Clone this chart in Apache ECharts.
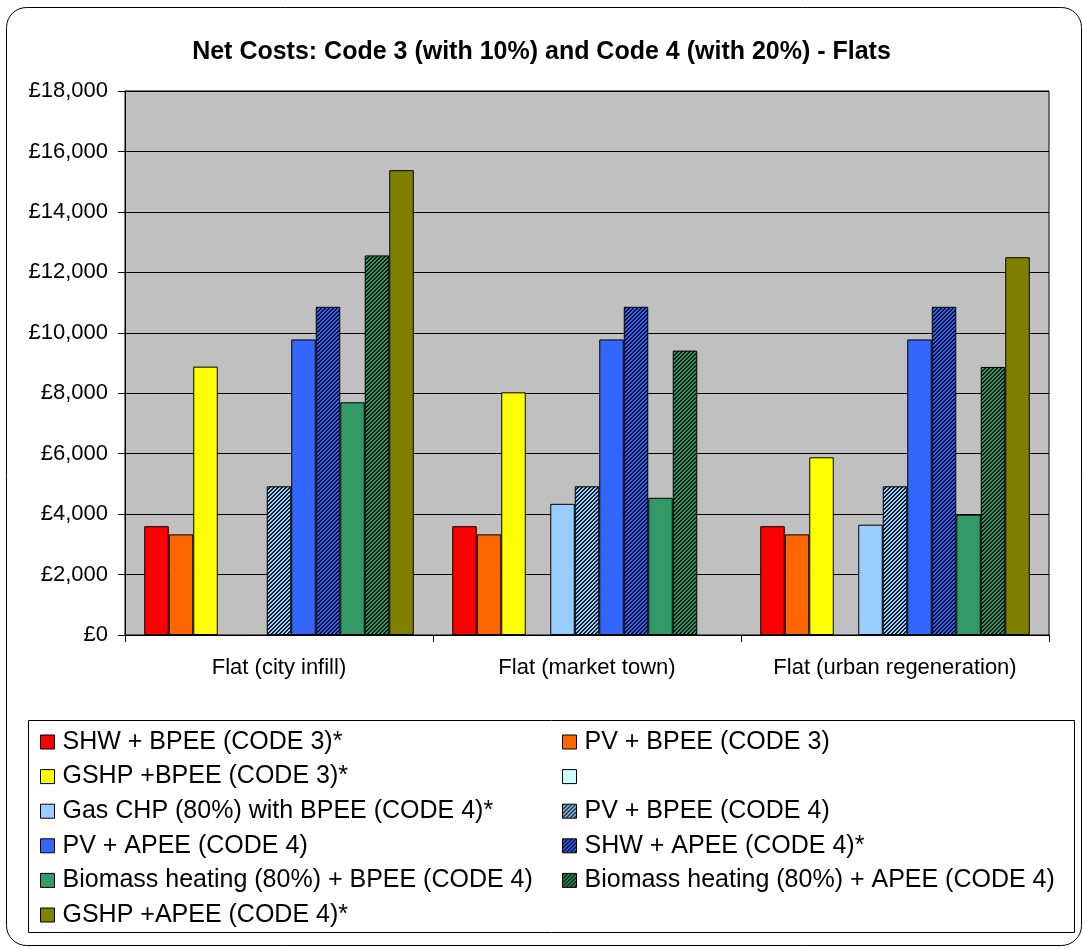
<!DOCTYPE html>
<html>
<head>
<meta charset="utf-8">
<script src="https://cdn.jsdelivr.net/npm/echarts@6/dist/echarts.min.js"></script>
<style>
html,body{margin:0;padding:0;background:#fff;}
#chart{width:1083px;height:949px;}
</style>
</head>
<body>
<div id="chart"></div>
<script>
const categories = ['Flat (city infill)', 'Flat (market town)', 'Flat (urban regeneration)'];
const yTicks = [0, 2000, 4000, 6000, 8000, 10000, 12000, 14000, 16000, 18000];

const seriesNames = [
  'SHW + BPEE (CODE 3)*',
  'PV + BPEE (CODE 3)',
  'GSHP +BPEE (CODE 3)*',
  ' ',
  'Gas CHP (80%) with BPEE (CODE 4)*',
  'PV + BPEE (CODE 4)',
  'PV + APEE (CODE 4)',
  'SHW + APEE (CODE 4)*',
  'Biomass heating (80%) + BPEE (CODE 4)',
  'Biomass heating (80%) + APEE (CODE 4)',
  'GSHP +APEE (CODE 4)*'
];

const shwBpee3 = [3600, 3600, 3600];
const pvBpee3 = [3330, 3330, 3330];
const gshpBpee3 = [8880, 8030, 5880];
const blankSeries = [null, null, null];
const gasChp4 = [null, 4340, 3650];
const pvBpee4 = [4920, 4920, 4920];
const pvApee4 = [9780, 9780, 9780];
const shwApee4 = [10860, 10860, 10860];
const bioBpee4 = [7700, 4540, 3980];
const bioApee4 = [12560, 9410, 8870];
const gshpApee4 = [15380, null, 12500];

const seriesData = [shwBpee3, pvBpee3, gshpBpee3, blankSeries, gasChp4, pvBpee4, pvApee4, shwApee4, bioBpee4, bioApee4, gshpApee4];
const baseColors = ['#FF0000', '#FF6600', '#FFFF00', '#CCFFFF', '#99CCFF', '#99CCFF', '#3366FF', '#3366FF', '#339966', '#339966', '#808000'];
const hatched = [false, false, false, false, false, true, false, true, false, true, false];

function hatchPattern(base) {
  const c = document.createElement('canvas');
  c.width = 8; c.height = 8;
  const ctx = c.getContext('2d');
  ctx.fillStyle = base;
  ctx.fillRect(0, 0, 8, 8);
  ctx.fillStyle = 'rgba(0,0,0,0.85)';
  for (let x = 0; x < 8; x++) {
    for (let y = 0; y < 8; y++) {
      const m = (x + y) % 4;
      if (m === 0 || m === 1) ctx.fillRect(x, y, 1, 1);
    }
  }
  return { image: c, repeat: 'repeat' };
}

const FONT = 'Liberation Sans, Arial, sans-serif';

const series = seriesNames.map((name, i) => ({
  name: name,
  type: 'bar',
  data: seriesData[i],
  barGap: '0%',
  barCategoryGap: '12.5%',
  itemStyle: {
    color: hatched[i] ? hatchPattern(baseColors[i]) : baseColors[i],
    borderColor: '#000',
    borderWidth: 1
  },
  emphasis: { disabled: true },
  animation: false
}));

const leftNames = seriesNames.filter((_, i) => i % 2 === 0);
const rightNames = seriesNames.filter((_, i) => i % 2 === 1);

const legendCommon = {
  orient: 'vertical',
  top: 724.5,
  itemWidth: 14,
  itemHeight: 14,
  itemGap: 9.6,
  icon: 'rect',
  selectedMode: false,
  textStyle: { fontFamily: FONT, fontSize: 25, color: '#000', padding: [0, 0, 0, 3] },
  itemStyle: { borderColor: '#000', borderWidth: 1 }
};

const chart = echarts.init(document.getElementById('chart'), null, { renderer: 'canvas' });
chart.setOption({
  backgroundColor: '#fff',
  animation: false,
  title: {
    text: 'Net Costs: Code 3 (with 10%) and Code 4 (with 20%) - Flats',
    left: 'center',
    top: 35,
    textStyle: { fontFamily: FONT, fontSize: 25, fontWeight: 'bold', color: '#000' }
  },
  graphic: [
    { type: 'rect', shape: { x: 6.5, y: 7.5, width: 1075, height: 938, r: 20 }, style: { fill: 'none', stroke: '#000', lineWidth: 1 }, silent: true, z: -1 },
    { type: 'rect', shape: { x: 28.5, y: 720.5, width: 1046, height: 212 }, style: { fill: 'none', stroke: '#000', lineWidth: 1 }, silent: true, z: -1 }
  ],
  legend: [
    Object.assign({}, legendCommon, { left: 35, data: leftNames }),
    Object.assign({}, legendCommon, { left: 557, data: rightNames })
  ],
  grid: {
    left: 125, right: 34, top: 91, bottom: 314,
    show: true, backgroundColor: '#C0C0C0', borderColor: '#000', borderWidth: 1,
    containLabel: false
  },
  xAxis: {
    type: 'category',
    data: categories,
    boundaryGap: true,
    axisLine: { show: true, lineStyle: { color: '#000', width: 1 } },
    axisTick: { show: true, length: 7, alignWithLabel: false, interval: 0, lineStyle: { color: '#000' } },
    axisLabel: { fontFamily: FONT, fontSize: 22, color: '#000', margin: 22, interval: 0, hideOverlap: false },
    splitLine: { show: false }
  },
  yAxis: {
    type: 'value',
    min: yTicks[0],
    max: yTicks[yTicks.length - 1],
    interval: yTicks[1] - yTicks[0],
    axisLine: { show: true, lineStyle: { color: '#000', width: 1 } },
    axisTick: { show: true, length: 7, lineStyle: { color: '#000' } },
    axisLabel: {
      fontFamily: FONT, fontSize: 22, color: '#000', margin: 17,
      formatter: v => '£' + v.toLocaleString('en-GB')
    },
    splitLine: { show: true, lineStyle: { color: '#000', width: 1 } }
  },
  series: series
});
</script>
</body>
</html>
